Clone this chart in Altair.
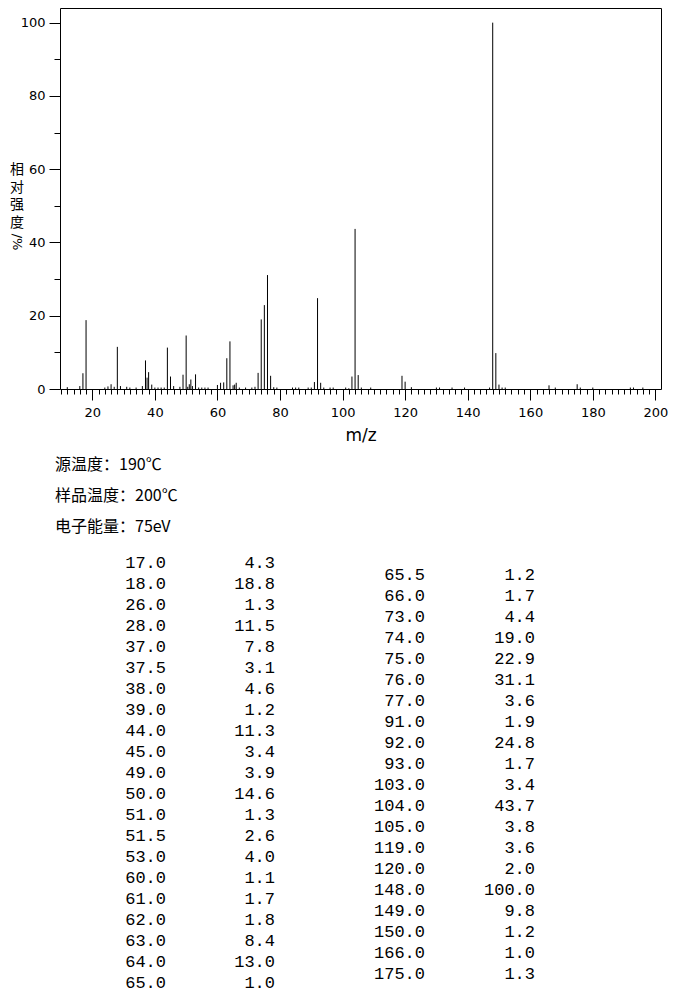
import altair as alt
import pandas as pd

# Peaks listed in the table (m/z, relative intensity %)
table_mz = [17.0, 18.0, 26.0, 28.0, 37.0, 37.5, 38.0, 39.0, 44.0, 45.0, 49.0,
            50.0, 51.0, 51.5, 53.0, 60.0, 61.0, 62.0, 63.0, 64.0, 65.0,
            65.5, 66.0, 73.0, 74.0, 75.0, 76.0, 77.0, 91.0, 92.0, 93.0,
            103.0, 104.0, 105.0, 119.0, 120.0, 148.0, 149.0, 150.0, 166.0, 175.0]
table_int = [4.3, 18.8, 1.3, 11.5, 7.8, 3.1, 4.6, 1.2, 11.3, 3.4, 3.9,
             14.6, 1.3, 2.6, 4.0, 1.1, 1.7, 1.8, 8.4, 13.0, 1.0,
             1.2, 1.7, 4.4, 19.0, 22.9, 31.1, 3.6, 1.9, 24.8, 1.7,
             3.4, 43.7, 3.8, 3.6, 2.0, 100.0, 9.8, 1.2, 1.0, 1.3]

# Small peaks (<1 %) visible in the spectrum only (estimated)
minor_mz = [12, 16, 24, 25, 27, 29, 31, 32, 34, 36, 40, 41, 42, 43, 46, 48, 50.5,
            52, 54, 55, 56, 57, 67, 69, 71, 72, 78, 79, 84, 85, 86, 89, 90, 94,
            96, 97, 101, 102, 106, 109, 122, 130, 131, 135, 139, 147, 151, 152,
            168, 176, 180, 192, 193, 196]
minor_int = [0.5, 0.8, 0.4, 0.7, 0.6, 0.8, 0.6, 0.4, 0.4, 0.8, 0.4, 0.4, 0.4, 0.4, 0.8, 0.6, 0.6,
             0.8, 0.4, 0.4, 0.4, 0.4, 0.4, 0.4, 0.4, 0.6, 0.5, 0.4, 0.4, 0.4, 0.4, 0.4, 0.4, 0.4,
             0.4, 0.4, 0.4, 0.2, 0.4, 0.4, 0.5, 0.4, 0.4, 0.4, 0.4, 0.4, 0.4, 0.4,
             0.4, 0.4, 0.4, 0.4, 0.4, 0.4]

header_lines = ["源温度：190℃", "样品温度：200℃", "电子能量：75eV"]
y_title_chars = ["相", "对", "强", "度"]
y_title_unit = "/%"
x_title = "m/z"

x_major = list(range(20, 201, 20))
x_minor = list(range(10, 201, 2))
y_major = [0, 20, 40, 60, 80, 100]
y_minor = [10, 30, 50, 70, 90]

n_left = 21

peaks = pd.DataFrame({
    "mz": table_mz + minor_mz,
    "inten": table_int + minor_int,
})
peaks["base"] = 0.0

tbl = pd.DataFrame({"mz": table_mz, "inten": table_int})
left = tbl.iloc[:n_left].reset_index(drop=True)
left["row"] = range(len(left))
right = tbl.iloc[n_left:].reset_index(drop=True)
right["row"] = range(len(right))

hdr = pd.DataFrame({"t": header_lines, "line": list(range(len(header_lines)))})
ytl = pd.DataFrame({"t": y_title_chars, "i": list(range(len(y_title_chars)))})

W, H = 601, 381
xscale = alt.Scale(domain=[9.67, 201.8], nice=False, zero=False)
yscale = alt.Scale(domain=[0, 104], nice=False)
AX_FONT = "DejaVu Sans"

spec = alt.Chart(peaks).mark_rule(color="black", strokeWidth=1).encode(
    x=alt.X("mz:Q", scale=xscale,
            axis=alt.Axis(values=x_major, tickSize=11, labelPadding=6, title=x_title,
                          orient="bottom", grid=False, domain=False, labelFont=AX_FONT,
                          labelFontSize=13, titleFont=AX_FONT, titleFontSize=17,
                          titleFontWeight="normal", titlePadding=8, labelColor="black",
                          tickColor="black", titleColor="black", labelFlush=False)),
    y=alt.Y("inten:Q", scale=yscale,
            axis=alt.Axis(values=y_major, tickSize=11, labelPadding=4, title=None,
                          orient="left", grid=False, domain=False, labelFont=AX_FONT,
                          labelFontSize=13, labelColor="black", tickColor="black")),
    y2="base",
)

minor = alt.Chart(peaks).mark_point(opacity=0).encode(
    x=alt.X("mz:Q", scale=xscale,
            axis=alt.Axis(values=x_minor, tickSize=5, labels=False, title=None,
                          orient="bottom", grid=False, domain=False, tickColor="black")),
    y=alt.Y("inten:Q", scale=yscale,
            axis=alt.Axis(values=y_minor, tickSize=6, labels=False, title=None,
                          orient="left", grid=False, domain=False, tickColor="black")),
)

ytitle = alt.Chart(ytl).mark_text(
    font="Noto Sans CJK SC", fontSize=14, align="center", baseline="middle", color="black"
).encode(
    text="t:N", x=alt.value(-43),
    y=alt.Y("i:Q", scale=alt.Scale(domain=[0, 3], range=[162, 214.5]), axis=None),
)

yunit = alt.Chart(pd.DataFrame({"t": [y_title_unit]})).mark_text(
    font="DejaVu Sans", fontSize=13, angle=90, align="center", baseline="middle",
    color="black"
).encode(text="t:N", x=alt.value(-43), y=alt.value(234))

header = alt.Chart(hdr).mark_text(
    font="Noto Sans CJK SC", fontSize=16, align="left", baseline="middle", color="black"
).encode(
    text="t:N", x=alt.value(-5),
    y=alt.Y("line:Q", scale=alt.Scale(domain=[0, 2], range=[457, 519]), axis=None),
)

MONO = "Liberation Mono"
ROW = 21
def col(df, y0, x_mz, x_int):
    n = len(df) - 1
    ysc = alt.Scale(domain=[0, n], range=[y0, y0 + ROW * n])
    base = alt.Chart(df).mark_text(font=MONO, fontSize=17, align="right",
                                   baseline="middle", color="black")
    a = base.encode(text=alt.Text("mz:Q", format=".1f"), x=alt.value(x_mz),
                    y=alt.Y("row:Q", scale=ysc, axis=None))
    b = base.encode(text=alt.Text("inten:Q", format=".1f"), x=alt.value(x_int),
                    y=alt.Y("row:Q", scale=ysc, axis=None))
    return [a, b]

layers = [spec, minor, ytitle, yunit, header] + col(left, 555, 106, 215) + col(right, 567, 365, 475)

chart = alt.layer(*layers).resolve_scale(y="independent").resolve_axis(
    x="independent", y="independent"
).properties(
    width=W, height=H,
    autosize=alt.AutoSizeParams(type="none"),
    padding={"left": 52, "top": 0, "right": 10, "bottom": 612},
).configure_view(stroke="black", strokeWidth=1)

chart.save("out.html", embed_options={"renderer": "svg", "actions": False})
